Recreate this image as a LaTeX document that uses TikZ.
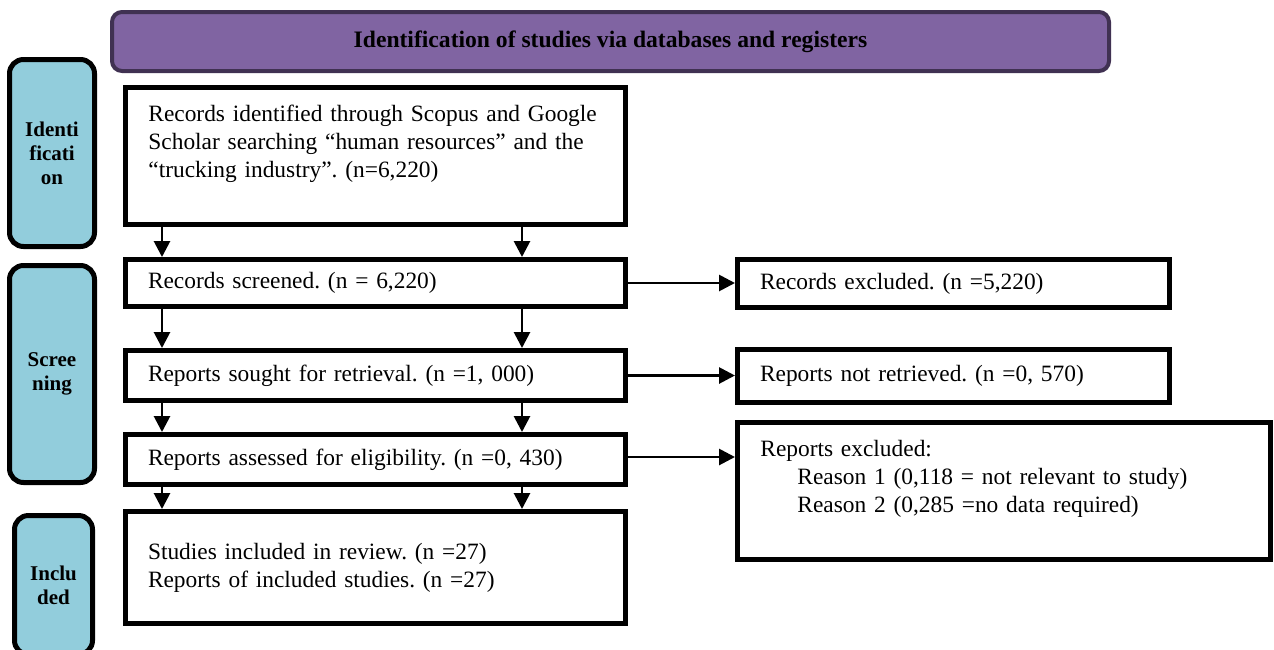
\documentclass[tikz,border=0pt]{standalone}
\usepackage{fontspec}
\setmainfont{Liberation Serif}
\usepackage{xcolor}
\usetikzlibrary{arrows.meta}

\definecolor{headfill}{HTML}{8064A2}
\definecolor{headline}{HTML}{403152}
\definecolor{stagefill}{HTML}{92CDDC}

\frenchspacing

\begin{document}
\begin{tikzpicture}[
  x=0.5pt, y=-0.5pt,
  font=\fontsize{11.7}{14}\selectfont,
  header/.style={draw=headline, fill=headfill, line width=2pt,
                 rounded corners=5pt, minimum width=498.5pt,
                 minimum height=29.5pt, font=\fontsize{11.8}{14}\selectfont\bfseries},
  stage/.style={draw=black, fill=stagefill, line width=2.5pt,
                rounded corners=7pt, align=center, inner sep=0pt,
                font=\fontsize{10.5}{12}\selectfont\bfseries},
  flow/.style={draw, line width=2.5pt, align=left, inner xsep=11.25pt,
               inner ysep=0pt},
  mainbox/.style={flow, minimum width=250pt, text width=227.5pt},
  outbox/.style={flow, minimum width=216pt, text width=193.5pt},
  txt/.style={anchor=north west, inner sep=0pt, align=left},
  arr/.style={-{Triangle[length=8pt,width=8pt]}, line width=1.4pt}
]
\useasboundingbox (0,0) rectangle (1274,649);

% banner
\node[header] (banner) at (610.5,41.5)
  {Identification of studies via databases and registers};

% stages on the left
\node[stage, minimum width=42.5pt, minimum height=93.5pt] (stIdent) at (52,153)
  {Identi\\ficati\\on};
\node[stage, minimum width=42.5pt, minimum height=108.5pt] (stScreen) at (52,374)
  {Scree\\ning};
\node[stage, minimum width=39pt, minimum height=69.5pt] (stIncl) at (53.5,585)
  {Inclu\\ded};

% main column
\node[mainbox, minimum height=68.5pt] (ident) at (375.5,156) {};
\node[txt, text width=240pt] (identtxt)
  at ([xshift=12.5pt, yshift=-9.75pt]ident.north west)
  {Records identified through Scopus and Google\\
   Scholar searching “human resources” and the\\
   “trucking industry”. (n=6,220)};

\node[mainbox, minimum height=23.5pt] (screen) at (375.5,283)
  {Records screened. (n = 6,220)};
\node[mainbox, minimum height=25pt] (sought) at (375.5,375.5)
  {Reports sought for retrieval. (n =1, 000)};
\node[mainbox, minimum height=25pt] (assess) at (375.5,459.5)
  {Reports assessed for eligibility. (n =0, 430)};
\node[mainbox, minimum height=56pt] (incl) at (375.5,567.5)
  {Studies included in review. (n =27)\\
   Reports of included studies. (n =27)};

% excluded column
\node[outbox, minimum height=24pt] (exclRec) at (953.5,283.5)
  {Records excluded. (n =5,220)};
\node[outbox, minimum height=26.5pt] (exclRet) at (953.5,376)
  {Reports not retrieved. (n =0, 570)};
\node[flow, minimum width=266.5pt, minimum height=68.5pt] (exclRep) at (1004,491) {};
\node[txt, text width=250pt] (exclReptxt)
  at ([xshift=12.5pt, yshift=-9.75pt]exclRep.north west)
  {Reports excluded:\\
   \hspace*{18.5pt}Reason 1 (0,118 = not relevant to study)\\
   \hspace*{18.5pt}Reason 2 (0,285 =no data required)};

% arrows
\coordinate (colL) at (162,0);
\coordinate (colR) at (522,0);
\foreach \a/\b in {ident/screen, screen/sought, sought/assess, assess/incl}{
  \draw[arr] (\a.south -| colL) -- (\b.north -| colL);
  \draw[arr] (\a.south -| colR) -- (\b.north -| colR);
}
\draw[arr] (screen.east) -- (screen.east -| exclRec.west);
\draw[arr] (sought.east) -- (sought.east -| exclRet.west);
\draw[arr] ([yshift=1.25pt]assess.east) -- ([yshift=1.25pt]assess.east -| exclRep.west);

\end{tikzpicture}
\end{document}
